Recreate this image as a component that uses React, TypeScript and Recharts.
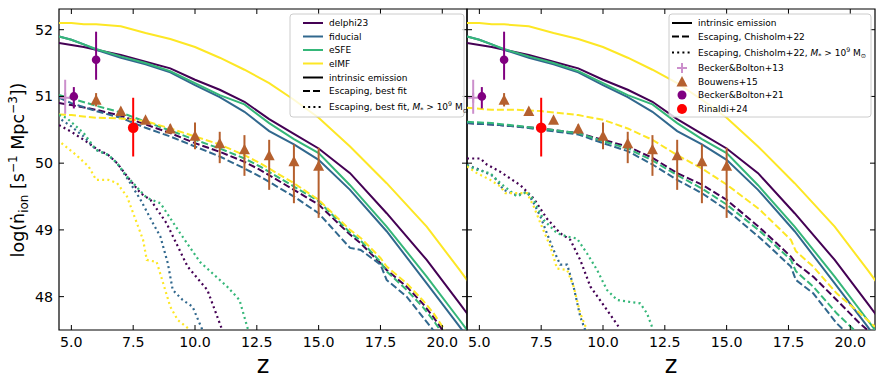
import React from "react";
import {
  ComposedChart,
  Line,
  Scatter,
  ErrorBar,
  XAxis,
  YAxis,
  ReferenceArea,
} from "recharts";

const DELPHI = "#440154";
const FIDUCIAL = "#31688e";
const ESFE = "#35b779";
const EIMF = "#fde725";
const BB13 = "#cc8fcc";
const BOUWENS = "#b5602e";
const BB21 = "#800080";
const RINALDI = "#ff0000";

const FONT = "'DejaVu Sans', sans-serif";
const X_TICKS = [5, 7.5, 10, 12.5, 15, 17.5, 20];
const Y_TICKS = [48, 49, 50, 51, 52];
const X_DOMAIN: [number, number] = [4.5, 21];
const Y_DOMAIN: [number, number] = [47.5, 52.31];

// intrinsic emission (both panels)
const zIntr = [4.5, 5, 5.5, 6, 7, 8, 9, 10, 11, 12, 13, 14, 15, 16.27, 17.75, 19.37, 20.7, 21.2];
const delphiIntr = [51.8, 51.77, 51.74, 51.7, 51.62, 51.52, 51.42, 51.25, 51.1, 50.92, 50.66, 50.44, 50.22, 49.85, 49.25, 48.55, 47.9, 47.65];
const fiducialIntr = [51.9, 51.85, 51.78, 51.7, 51.58, 51.48, 51.36, 51.17, 50.99, 50.77, 50.48, 50.28, 50.05, 49.6, 48.98, 48.2, 47.55, 47.3];
const esfeIntr = [51.9, 51.85, 51.78, 51.71, 51.6, 51.5, 51.38, 51.2, 51.02, 50.88, 50.6, 50.36, 50.15, 49.67, 49.05, 48.3, 47.65, 47.4];
const eimfIntr = [52.1, 52.1, 52.08, 52.08, 52.05, 51.95, 51.86, 51.74, 51.58, 51.4, 51.2, 50.95, 50.68, 50.25, 49.7, 49.05, 48.4, 48.15];

// escaping, best fit (left)
const zFit = [4.5, 5, 6, 7, 8, 9, 10, 11, 12, 12.63, 14, 15, 16.27, 16.7, 17.5, 17.75, 18.56, 19.2, 19.63, 20.1];
const delphiFit = [50.9, 50.87, 50.8, 50.71, 50.58, 50.45, 50.3, 50.17, 50.02, 49.9, 49.6, 49.38, 48.93, 48.8, 48.5, 48.4, 48.15, 47.9, 47.7, 47.45];
const fiducialFit = [50.98, 50.9, 50.78, 50.68, 50.53, 50.4, 50.25, 50.1, 49.92, 49.8, 49.5, 49.25, 48.73, 48.7, 48.48, 48.25, 48.0, 47.7, 47.5, 47.3];
const esfeFit = [51.02, 50.97, 50.86, 50.76, 50.62, 50.49, 50.35, 50.22, 50.07, 49.95, 49.65, 49.43, 48.96, 48.84, 48.52, 48.38, 48.1, 47.85, 47.65, 47.4];
const eimfFit = [50.73, 50.72, 50.68, 50.67, 50.63, 50.52, 50.4, 50.28, 50.12, 50.0, 49.7, 49.45, 49.0, 48.88, 48.58, 48.45, 48.2, 47.95, 47.76, 47.5];

// escaping, best fit, M* > 1e9 (left)
const zDelphiFitM = [4.5, 5.0, 5.5, 6.0, 6.5, 6.85, 7.3, 7.8, 8.2, 8.85, 9.7, 10.5, 10.75, 11.1];
const delphiFitM = [50.57, 50.47, 50.35, 50.22, 50.12, 50.0, 49.78, 49.55, 49.45, 49.1, 48.45, 48.1, 47.85, 47.5];
const zFiducialFitM = [4.6, 5.0, 5.5, 6.0, 6.5, 6.85, 7.3, 7.8, 8.3, 8.6, 8.9, 9.1, 9.5, 9.9, 10.3];
const fiducialFitM = [50.65, 50.55, 50.4, 50.2, 50.12, 50.0, 49.75, 49.45, 49.1, 48.9, 48.5, 48.1, 47.95, 47.85, 47.5];
const zEsfeFitM = [4.5, 4.8, 5.5, 6.0, 6.5, 6.85, 7.25, 8.05, 8.6, 9.4, 10.2, 11.3, 11.8, 12.15];
const esfeFitM = [50.72, 50.68, 50.45, 50.2, 50.12, 50.0, 49.8, 49.48, 49.4, 48.95, 48.52, 48.15, 47.95, 47.5];
const zEimfFitM = [4.6, 5.2, 5.7, 6.0, 6.5, 6.85, 7.25, 7.9, 8.05, 8.45, 9.0, 9.3, 9.8];
const eimfFitM = [50.3, 50.12, 49.95, 49.75, 49.75, 49.7, 49.5, 48.85, 48.55, 48.52, 47.85, 47.65, 47.5];

// escaping, Chisholm+22 (right)
const zCh = [4.5, 5.5, 6.5, 7.5, 9, 10, 11, 12, 13, 14, 15, 16.35, 17.6, 17.8, 18.5, 19.45, 20.3, 21];
const delphiCh = [50.6, 50.58, 50.55, 50.52, 50.45, 50.35, 50.25, 50.08, 49.85, 49.68, 49.45, 49.03, 48.6, 48.5, 48.3, 47.95, 47.63, 47.4];
const fiducialCh = [50.6, 50.58, 50.55, 50.5, 50.43, 50.3, 50.18, 49.98, 49.75, 49.55, 49.3, 48.88, 48.45, 48.25, 48.05, 47.6, 47.3, 47.1];
const esfeCh = [50.62, 50.6, 50.56, 50.52, 50.45, 50.33, 50.22, 50.04, 49.82, 49.62, 49.38, 48.98, 48.55, 48.38, 48.15, 47.75, 47.45, 47.2];
const eimfCh = [50.83, 50.8, 50.8, 50.78, 50.72, 50.65, 50.52, 50.35, 50.12, 49.92, 49.68, 49.3, 48.85, 48.68, 48.45, 48.05, 47.78, 47.55];

// escaping, Chisholm+22, M* > 1e9 (right)
const zDelphiChM = [4.5, 5.04, 5.3, 5.85, 6.25, 6.66, 7.2, 7.73, 8.27, 8.68, 9.08, 9.49, 10.16, 10.63];
const delphiChM = [50.07, 50.07, 49.98, 49.87, 49.77, 49.67, 49.47, 49.17, 48.95, 48.85, 48.55, 48.15, 47.8, 47.55];
const zFiducialChM = [4.5, 5.04, 5.58, 5.98, 6.52, 6.93, 7.2, 7.47, 7.73, 8.0, 8.27, 8.55, 8.81, 9.08, 9.28];
const fiducialChM = [49.97, 49.9, 49.8, 49.6, 49.52, 49.57, 49.4, 49.2, 48.95, 48.7, 48.48, 48.48, 48.15, 47.7, 47.5];
const zEsfeChM = [4.5, 4.9, 5.44, 5.85, 6.52, 6.93, 7.2, 7.6, 8.14, 8.55, 8.95, 9.35, 9.76, 10.16, 10.57, 11.1, 11.5, 11.78, 11.98];
const esfeChM = [49.97, 49.9, 49.85, 49.7, 49.5, 49.57, 49.45, 49.15, 48.95, 48.9, 48.87, 48.65, 48.4, 48.1, 47.95, 47.92, 47.9, 47.75, 47.55];
const zEimfChM = [4.5, 4.9, 5.44, 5.85, 6.05, 6.52, 6.93, 7.2, 7.47, 7.87, 8.14, 8.55, 8.81, 9.08, 9.35];
const eimfChM = [49.95, 49.85, 49.75, 49.65, 49.55, 49.55, 49.55, 49.35, 49.1, 48.75, 48.42, 48.4, 48.15, 47.75, 47.5];

// observations
const bb13Z = [4.75];
const bb13Val = [50.98];
const bb13Lo = [0.24];
const bb13Hi = [0.27];

const bouwensZ = [6, 7, 8, 9, 10, 11, 12, 13, 14, 15];
const bouwensVal = [50.95, 50.78, 50.65, 50.52, 50.41, 50.3, 50.21, 50.12, 50.03, 49.96];
const bouwensLo = [0.1, 0.03, 0.04, 0.08, 0.2, 0.3, 0.4, 0.52, 0.63, 0.78];
const bouwensHi = [0.1, 0.03, 0.04, 0.06, 0.2, 0.17, 0.21, 0.23, 0.25, 0.27];

const bb21Z = [5.1, 6.0];
const bb21Val = [51.0, 51.55];
const bb21Lo = [0.18, 0.3];
const bb21Hi = [0.14, 0.42];

const rinaldiZ = [7.5];
const rinaldiVal = [50.53];
const rinaldiLo = [0.43];
const rinaldiHi = [0.45];

const pts = (xs: number[], ys: number[]) => xs.map((x, i) => ({ x, y: ys[i] }));
const obs = (xs: number[], ys: number[], lo: number[], hi: number[]) =>
  xs.map((x, i) => ({ x, y: ys[i], err: [lo[i], hi[i]] }));

type Series = { name: string; color: string; data: { x: number; y: number }[] };

const intrinsic: Series[] = [
  { name: "delphi23", color: DELPHI, data: pts(zIntr, delphiIntr) },
  { name: "fiducial", color: FIDUCIAL, data: pts(zIntr, fiducialIntr) },
  { name: "eSFE", color: ESFE, data: pts(zIntr, esfeIntr) },
  { name: "eIMF", color: EIMF, data: pts(zIntr, eimfIntr) },
];
const fitDashed: Series[] = [
  { name: "delphi23", color: DELPHI, data: pts(zFit, delphiFit) },
  { name: "fiducial", color: FIDUCIAL, data: pts(zFit, fiducialFit) },
  { name: "eSFE", color: ESFE, data: pts(zFit, esfeFit) },
  { name: "eIMF", color: EIMF, data: pts(zFit, eimfFit) },
];
const fitDotted: Series[] = [
  { name: "delphi23", color: DELPHI, data: pts(zDelphiFitM, delphiFitM) },
  { name: "fiducial", color: FIDUCIAL, data: pts(zFiducialFitM, fiducialFitM) },
  { name: "eSFE", color: ESFE, data: pts(zEsfeFitM, esfeFitM) },
  { name: "eIMF", color: EIMF, data: pts(zEimfFitM, eimfFitM) },
];
const chDashed: Series[] = [
  { name: "delphi23", color: DELPHI, data: pts(zCh, delphiCh) },
  { name: "fiducial", color: FIDUCIAL, data: pts(zCh, fiducialCh) },
  { name: "eSFE", color: ESFE, data: pts(zCh, esfeCh) },
  { name: "eIMF", color: EIMF, data: pts(zCh, eimfCh) },
];
const chDotted: Series[] = [
  { name: "delphi23", color: DELPHI, data: pts(zDelphiChM, delphiChM) },
  { name: "fiducial", color: FIDUCIAL, data: pts(zFiducialChM, fiducialChM) },
  { name: "eSFE", color: ESFE, data: pts(zEsfeChM, esfeChM) },
  { name: "eIMF", color: EIMF, data: pts(zEimfChM, eimfChM) },
];

const bb13Data = obs(bb13Z, bb13Val, bb13Lo, bb13Hi);
const bouwensData = obs(bouwensZ, bouwensVal, bouwensLo, bouwensHi);
const bb21Data = obs(bb21Z, bb21Val, bb21Lo, bb21Hi);
const rinaldiData = obs(rinaldiZ, rinaldiVal, rinaldiLo, rinaldiHi);

const PLOT_TOP = 9;
const PLOT_BOTTOM = 330;
const TICK = 5;

const plusShape = (p: any) => (
  <g>
    <line x1={p.cx - 5} x2={p.cx + 5} y1={p.cy} y2={p.cy} stroke={BB13} strokeWidth={2} />
    <line x1={p.cx} x2={p.cx} y1={p.cy - 5} y2={p.cy + 5} stroke={BB13} strokeWidth={2} />
  </g>
);
const triShape = (p: any) => (
  <polygon
    points={`${p.cx},${p.cy - 5.5} ${p.cx - 5.5},${p.cy + 5} ${p.cx + 5.5},${p.cy + 5}`}
    fill={BOUWENS}
  />
);
const purpleDot = (p: any) => <circle cx={p.cx} cy={p.cy} r={4.3} fill={BB21} />;
const redDot = (p: any) => <circle cx={p.cx} cy={p.cy} r={5.3} fill={RINALDI} />;

const Panel: React.FC<{
  width: number;
  plotLeft: number;
  plotRight: number;
  yLabels: boolean;
  dashed: Series[];
  dotted: Series[];
}> = ({ width, plotLeft, plotRight, yLabels, dashed, dotted }) => {
  const xTick = (p: any) => (
    <g>
      <line x1={p.x} x2={p.x} y1={PLOT_BOTTOM} y2={PLOT_BOTTOM - TICK} stroke="#000" strokeWidth={1} />
      <line x1={p.x} x2={p.x} y1={PLOT_TOP} y2={PLOT_TOP + TICK} stroke="#000" strokeWidth={1} />
      <text x={p.x} y={PLOT_BOTTOM + 17} textAnchor="middle" fontSize={14.2} fontFamily={FONT} fill="#000">
        {Number(p.payload.value).toFixed(1)}
      </text>
    </g>
  );
  const yTick = (p: any) => (
    <g>
      <line x1={plotLeft} x2={plotLeft + TICK} y1={p.y} y2={p.y} stroke="#000" strokeWidth={1} />
      <line x1={plotRight - TICK} x2={plotRight} y1={p.y} y2={p.y} stroke="#000" strokeWidth={1} />
      {yLabels && (
        <text x={plotLeft - 6} y={p.y + 5} textAnchor="end" fontSize={14.2} fontFamily={FONT} fill="#000">
          {p.payload.value}
        </text>
      )}
    </g>
  );

  return (
    <ComposedChart
      width={width}
      height={390}
      margin={{ top: PLOT_TOP, right: width - plotRight, bottom: 0, left: 0 }}
    >
      <XAxis
        dataKey="x"
        type="number"
        domain={X_DOMAIN}
        ticks={X_TICKS}
        interval={0}
        allowDataOverflow
        axisLine={false}
        tickLine={false}
        tick={xTick}
        height={390 - PLOT_BOTTOM}
      />
      <YAxis
        dataKey="y"
        type="number"
        domain={Y_DOMAIN}
        ticks={Y_TICKS}
        interval={0}
        allowDataOverflow
        axisLine={false}
        tickLine={false}
        tick={yTick}
        width={plotLeft}
      />
      {intrinsic.map((s) => (
        <Line
          key={`i-${s.name}`}
          data={s.data}
          dataKey="y"
          type="linear"
          stroke={s.color}
          strokeWidth={2}
          dot={false}
          isAnimationActive={false}
        />
      ))}
      {dashed.map((s) => (
        <Line
          key={`d-${s.name}`}
          data={s.data}
          dataKey="y"
          type="linear"
          stroke={s.color}
          strokeWidth={2}
          strokeDasharray="7 3"
          dot={false}
          isAnimationActive={false}
        />
      ))}
      {dotted.map((s) => (
        <Line
          key={`o-${s.name}`}
          data={s.data}
          dataKey="y"
          type="linear"
          stroke={s.color}
          strokeWidth={2.2}
          strokeDasharray="2 3.2"
          dot={false}
          isAnimationActive={false}
        />
      ))}
      <Scatter data={bb13Data} dataKey="y" shape={plusShape} isAnimationActive={false}>
        <ErrorBar dataKey="err" direction="y" width={0} stroke={BB13} strokeWidth={2} />
      </Scatter>
      <Scatter data={bouwensData} dataKey="y" shape={triShape} isAnimationActive={false}>
        <ErrorBar dataKey="err" direction="y" width={0} stroke={BOUWENS} strokeWidth={2} />
      </Scatter>
      <Scatter data={bb21Data} dataKey="y" shape={purpleDot} isAnimationActive={false}>
        <ErrorBar dataKey="err" direction="y" width={0} stroke={BB21} strokeWidth={2} />
      </Scatter>
      <Scatter data={rinaldiData} dataKey="y" shape={redDot} isAnimationActive={false}>
        <ErrorBar dataKey="err" direction="y" width={0} stroke={RINALDI} strokeWidth={2} />
      </Scatter>
      <ReferenceArea
        x1={X_DOMAIN[0]}
        x2={X_DOMAIN[1]}
        y1={Y_DOMAIN[0]}
        y2={Y_DOMAIN[1]}
        fill="none"
        fillOpacity={0}
        stroke="#000"
        strokeWidth={1.2}
      />
    </ComposedChart>
  );
};

const sub = (t: string) => (
  <tspan fontSize={6.3} dy={2.5}>
    {t}
  </tspan>
);

const LegendLine = ({ x, y, color, dash }: { x: number; y: number; color: string; dash?: string }) => (
  <line x1={x} x2={x + 20} y1={y} y2={y} stroke={color} strokeWidth={2} strokeDasharray={dash} />
);

const LegendText = ({ x, y, children }: { x: number; y: number; children: React.ReactNode }) => (
  <text x={x} y={y + 3.3} fontSize={9} fontFamily={FONT} fill="#000">
    {children}
  </text>
);

const MassCut = () => (
  <>
    <tspan fontStyle="italic">M</tspan>
    <tspan fontSize={6.3} dy={2}>*</tspan>
    <tspan dy={-2}>{" > 10"}</tspan>
    <tspan fontSize={6.3} dy={-4}>9</tspan>
    <tspan dy={4}>{" M"}</tspan>
    {sub("⊙")}
  </>
);

const Overlay: React.FC = () => (
  <svg width={886} height={390} style={{ position: "absolute", left: 0, top: 0, pointerEvents: "none" }}>
    {/* axis titles */}
    <text
      transform="translate(24,170) rotate(-90)"
      textAnchor="middle"
      fontSize={17.5}
      fontFamily={FONT}
      fill="#000"
    >
      log(ṅ
      <tspan fontSize={12} dy={4}>ion</tspan>
      <tspan dy={-4}> [s</tspan>
      <tspan fontSize={12} dy={-7}>−1</tspan>
      <tspan dy={7}> Mpc</tspan>
      <tspan fontSize={12} dy={-7}>−3</tspan>
      <tspan dy={7}>])</tspan>
    </text>
    <text x={263} y={373} textAnchor="middle" fontSize={24} fontFamily={FONT} fill="#000">z</text>
    <text x={671} y={373} textAnchor="middle" fontSize={24} fontFamily={FONT} fill="#000">z</text>

    {/* left legend */}
    <rect x={290} y={14} width={174} height={103} rx={3} fill="#fff" fillOpacity={0.8} stroke="#cccccc" strokeWidth={1} />
    <LegendLine x={303} y={23} color={DELPHI} />
    <LegendText x={329} y={23}>delphi23</LegendText>
    <LegendLine x={303} y={36.5} color={FIDUCIAL} />
    <LegendText x={329} y={36.5}>fiducial</LegendText>
    <LegendLine x={303} y={50} color={ESFE} />
    <LegendText x={329} y={50}>eSFE</LegendText>
    <LegendLine x={303} y={63.5} color={EIMF} />
    <LegendText x={329} y={63.5}>eIMF</LegendText>
    <LegendLine x={303} y={77.5} color="#000" />
    <LegendText x={329} y={77.5}>intrinsic emission</LegendText>
    <LegendLine x={303} y={91} color="#000" dash="7 3" />
    <LegendText x={329} y={91}>Escaping, best fit</LegendText>
    <LegendLine x={303} y={107} color="#000" dash="2 3.2" />
    <LegendText x={329} y={107}>
      Escaping, best fit, <MassCut />
    </LegendText>

    {/* right legend */}
    <rect x={669} y={14} width={202} height={103} rx={3} fill="#fff" fillOpacity={0.8} stroke="#cccccc" strokeWidth={1} />
    <LegendLine x={672} y={23} color="#000" />
    <LegendText x={698} y={23}>intrinsic emission</LegendText>
    <LegendLine x={672} y={36.5} color="#000" dash="7 3" />
    <LegendText x={698} y={36.5}>Escaping, Chisholm+22</LegendText>
    <LegendLine x={672} y={52.5} color="#000" dash="2 3.2" />
    <LegendText x={698} y={52.5}>
      Escaping, Chisholm+22, <MassCut />
    </LegendText>
    <g>
      <line x1={677} x2={687} y1={68} y2={68} stroke={BB13} strokeWidth={2} />
      <line x1={682} x2={682} y1={63} y2={73} stroke={BB13} strokeWidth={2} />
    </g>
    <LegendText x={698} y={68}>Becker&amp;Bolton+13</LegendText>
    <polygon points="682,76 676.5,86.5 687.5,86.5" fill={BOUWENS} />
    <LegendText x={698} y={81.5}>Bouwens+15</LegendText>
    <circle cx={682} cy={95} r={4.5} fill={BB21} />
    <LegendText x={698} y={95}>Becker&amp;Bolton+21</LegendText>
    <circle cx={682} cy={109} r={5} fill={RINALDI} />
    <LegendText x={698} y={109}>Rinaldi+24</LegendText>
  </svg>
);

export default function App() {
  return (
    <div style={{ position: "absolute", left: 0, top: 0, width: 886, height: 390, background: "#fff", fontFamily: FONT }}>
      <div style={{ position: "absolute", left: 0, top: 0 }}>
        <Panel width={470} plotLeft={59} plotRight={467} yLabels dashed={fitDashed} dotted={fitDotted} />
      </div>
      <div style={{ position: "absolute", left: 440, top: 0 }}>
        <Panel width={446} plotLeft={27} plotRight={435} yLabels={false} dashed={chDashed} dotted={chDotted} />
      </div>
      <Overlay />
    </div>
  );
}
